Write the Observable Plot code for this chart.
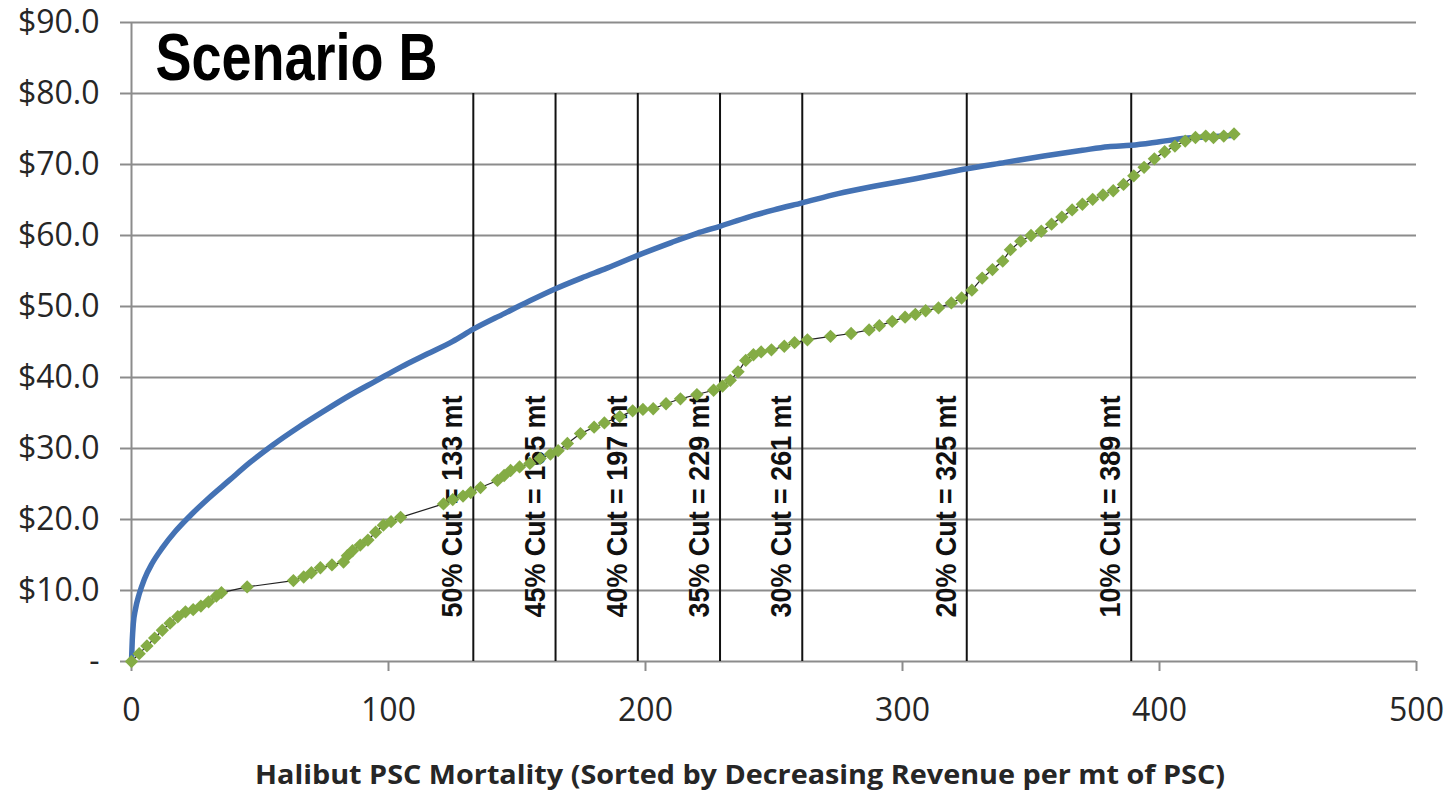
<!DOCTYPE html>
<html>
<head>
<meta charset="utf-8">
<script src="https://cdn.jsdelivr.net/npm/d3@7"></script>
<script src="https://cdn.jsdelivr.net/npm/@observablehq/plot@0.6"></script>
<style>
  html, body { margin: 0; padding: 0; background: #fff; }
  #chart { width: 1454px; height: 791px; }
</style>
</head>
<body>
<div id="chart"></div>
<script>
const title = "Scenario B";
const xLabel = "Halibut PSC Mortality (Sorted by Decreasing Revenue per mt of PSC)";
const xTicks = [0, 100, 200, 300, 400, 500];
const yTicks = [0, 10, 20, 30, 40, 50, 60, 70, 80, 90];

const cutValues = [133, 165, 197, 229, 261, 325, 389];
const cutPercents = ["50%", "45%", "40%", "35%", "30%", "20%", "10%"];
const cutTop = 80;

// Blue series (cumulative revenue, sorted)
const blueX = [0, 0.3, 0.7, 1.5, 3, 5, 8, 12, 17, 23, 30, 38, 46, 55, 65, 75, 85, 95, 105, 115, 125, 133,
  145, 155, 165, 175, 185, 197, 210, 220, 229, 240, 250, 261, 275, 290, 305, 315, 325, 340, 355, 370,
  380, 389, 400, 410, 420, 428];
const blueY = [0, 3, 5.3, 7.3, 9.5, 11.6, 13.8, 16, 18.3, 20.6, 23, 25.5, 28, 30.5, 33, 35.3, 37.5, 39.5,
  41.5, 43.3, 45.1, 46.8, 49, 50.8, 52.5, 54, 55.4, 57.2, 59, 60.3, 61.3, 62.6, 63.6, 64.6, 65.9, 67, 68,
  68.7, 69.4, 70.3, 71.2, 72, 72.5, 72.7, 73.2, 73.7, 73.9, 74.1];

// Green series (markers)
const greenX = [0, 3, 6, 9, 12, 15, 18, 21, 24, 27, 30, 33, 35, 45, 63, 67, 70, 73.5, 78, 82.5, 84, 86, 89,
  92, 95, 98, 101, 104.7, 121.4, 125, 129, 132, 135.8, 142.4, 145, 147.5, 151, 155, 159, 163, 166, 169.6,
  174.7, 180, 184, 190, 195, 199, 203, 208, 213.6, 220, 226.5, 230, 233, 236, 239, 242, 245, 249, 254,
  258, 263, 272, 280, 287, 291, 296, 301, 305, 309, 314, 319, 323, 327, 331, 335, 339, 342, 346, 350,
  354, 358, 362, 366, 370, 374, 378, 382, 386, 390, 394, 398, 402, 406, 410, 414, 418, 421, 425, 429];
const greenY = [0, 1.1, 2.2, 3.3, 4.4, 5.4, 6.3, 7, 7.3, 7.8, 8.4, 9.2, 9.7, 10.5, 11.4, 11.9, 12.5, 13.2,
  13.6, 14, 14.9, 15.6, 16.4, 17.1, 18.2, 19.2, 19.7, 20.3, 22.2, 22.8, 23.3, 23.8, 24.5, 25.5, 26.2,
  26.9, 27.4, 27.9, 28.6, 29.2, 29.7, 30.7, 32.1, 33, 33.6, 34.5, 35.3, 35.5, 35.6, 36.3, 37, 37.6, 38.2,
  38.8, 39.6, 40.8, 42.4, 43.2, 43.6, 43.9, 44.4, 44.9, 45.3, 45.8, 46.2, 46.7, 47.3, 47.9, 48.5, 48.9,
  49.4, 49.8, 50.5, 51.2, 52.3, 54, 55.2, 56.4, 58, 59.2, 60, 60.6, 61.6, 62.6, 63.6, 64.4, 65.1, 65.7,
  66.3, 67.2, 68.4, 69.6, 70.8, 71.8, 72.6, 73.3, 73.8, 74, 73.8, 74, 74.3];

const blue = blueX.map((x, i) => ({x, y: blueY[i]}));
const green = greenX.map((x, i) => ({x, y: greenY[i]}));
const cuts = cutValues.map((v, i) => ({v, label: `${cutPercents[i]} Cut = ${v} mt`}));

const gridColor = "#8c8c8c";

const chart = Plot.plot({
  width: 1454,
  height: 791,
  marginLeft: 131,
  marginRight: 38,
  marginTop: 22,
  marginBottom: 130,
  style: {fontFamily: "'Open Sans', sans-serif", fontSize: "32px", color: "#262626", background: "#fff"},
  x: {domain: [0, 500]},
  y: {domain: [0, 90]},
  marks: [
    Plot.gridY(yTicks, {stroke: gridColor, strokeOpacity: 1, strokeWidth: 2}),
    Plot.ruleX([0], {stroke: gridColor, strokeWidth: 2}),
    Plot.axisY(yTicks, {tickSize: 11, tickPadding: 21, stroke: gridColor, strokeWidth: 2,
      tickFormat: d => d === 0 ? "-" : "$" + d.toFixed(1), label: null, fontSize: 32}),
    Plot.axisX(xTicks, {tickSize: 10, tickPadding: 27, stroke: gridColor, strokeWidth: 2,
      label: null, fontSize: 32}),
    Plot.ruleX(cuts, {x: "v", y1: 0, y2: cutTop, stroke: "#111", strokeWidth: 2}),
    Plot.text(cuts, {x: "v", text: "label", frameAnchor: "bottom", rotate: -90, textAnchor: "start",
      lineAnchor: "bottom", dx: -11, dy: -44, fontSize: 29, fontWeight: "bold",
      fontFamily: "'Liberation Sans', Arial, sans-serif", fill: "#111"}),
    Plot.line(blue, {x: "x", y: "y", stroke: "#4472b4", strokeWidth: 5.5, curve: "monotone-x"}),
    Plot.line(green, {x: "x", y: "y", stroke: "#222", strokeWidth: 1.2}),
    Plot.dot(green, {x: "x", y: "y", symbol: "diamond2", r: 6, fill: "#84ac45", stroke: "none"}),
    Plot.text([title], {frameAnchor: "top-left", dx: 24, dy: 11, lineAnchor: "top", textAnchor: "start",
      fontSize: 66, fontWeight: "bold", fontFamily: "'Liberation Sans', Arial, sans-serif", fill: "#000"}),
    Plot.text([xLabel], {frameAnchor: "bottom", dx: -34, dy: 122, lineAnchor: "bottom",
      fontSize: 27, fontWeight: "bold", fontFamily: "'Open Sans', sans-serif", fill: "#262626"})
  ]
});

// stretch texts to the reference widths
chart.querySelectorAll("text").forEach(t => {
  const s = t.textContent;
  let len = null;
  if (s === title) len = 282;
  else if (s === xLabel) len = 970;
  else if (/Cut =/.test(s)) len = 222;
  if (len) { t.setAttribute("textLength", len); t.setAttribute("lengthAdjust", "spacingAndGlyphs"); }
});

document.getElementById("chart").appendChild(chart);
</script>
</body>
</html>
